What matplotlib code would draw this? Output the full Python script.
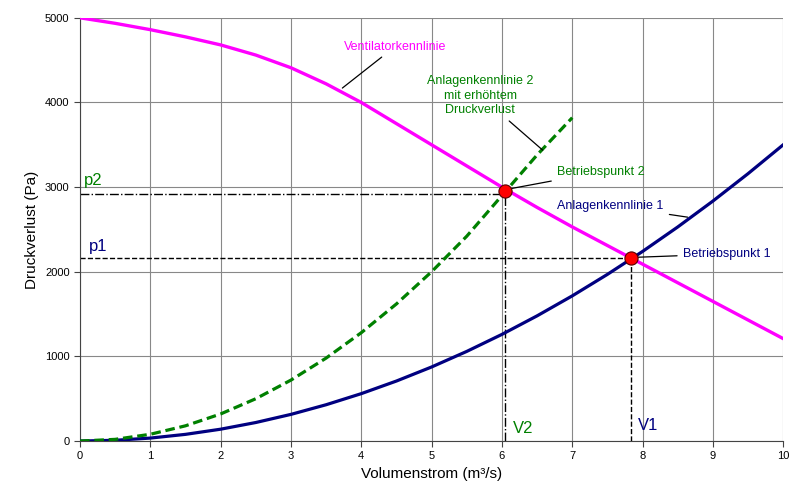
import numpy as np
import matplotlib.pyplot as plt

plt.rcParams['font.family'] = ['Liberation Sans', 'DejaVu Sans']

# Ventilatorkennlinie (fan curve)
v_fan = [0, 0.5, 1, 1.5, 2, 2.5, 3, 3.5, 4, 4.5, 5, 5.5, 6, 6.5, 7, 7.5, 8, 8.5, 9, 9.5, 10]
p_fan = [5000, 4935, 4860, 4775, 4680, 4560, 4410, 4220, 4000, 3750, 3500, 3250,
         3000, 2760, 2530, 2310, 2090, 1870, 1650, 1430, 1210]

# Anlagenkennlinie 1 (system curve)
v_sys1 = [0, 0.5, 1, 1.5, 2, 2.5, 3, 3.5, 4, 4.5, 5, 5.5, 6, 6.5, 7, 7.5, 8, 8.5, 9, 9.5, 10]
p_sys1 = [0, 9, 35, 79, 140, 219, 315, 429, 560, 709, 875, 1059, 1260, 1479, 1715,
          1969, 2240, 2529, 2835, 3159, 3500]

# Anlagenkennlinie 2 (higher pressure loss)
v_sys2 = [0, 0.5, 1, 1.5, 2, 2.5, 3, 3.5, 4, 4.5, 5, 5.5, 6, 6.5, 7]
p_sys2 = [0, 20, 80, 180, 320, 500, 720, 980, 1280, 1620, 2000, 2420, 2900, 3380, 3820]

# Betriebspunkte
bp_v = [6.05, 7.84]
bp_p = [2955, 2165]
p2_level = 2920
p1_level = 2160

fig = plt.figure(figsize=(8, 4.95), dpi=100)
ax = fig.add_axes([0.1, 0.109, 0.879, 0.855])

ax.plot(v_fan, p_fan, color='#ff00ff', lw=2.4, zorder=3)
ax.plot(v_sys1, p_sys1, color='#000080', lw=2.3, zorder=3)
ax.plot(v_sys2, p_sys2, color='#008000', lw=2.3, ls=(0, (3, 1.5)), zorder=3)

# helper lines
ax.plot([0, bp_v[0]], [p2_level, p2_level], color='black', lw=1, ls='-.', zorder=2)
ax.plot([bp_v[0], bp_v[0]], [0, bp_p[0]], color='black', lw=1, ls='-.', zorder=2)
ax.plot([0, bp_v[1]], [p1_level, p1_level], color='black', lw=1, ls='--', zorder=2)
ax.plot([bp_v[1], bp_v[1]], [0, bp_p[1]], color='black', lw=1, ls='--', zorder=2)

ax.scatter(bp_v, bp_p, s=90, color='#ff0000', edgecolors='#550000', linewidths=0.8, zorder=5)

ax.set_xlim(0, 10)
ax.set_ylim(0, 5000)
ax.set_xticks(range(0, 11))
ax.set_yticks(range(0, 5001, 1000))
ax.grid(True, color='#888888', lw=0.8)
for s in ['top', 'right']:
    ax.spines[s].set_visible(False)
for s in ['left', 'bottom']:
    ax.spines[s].set_color('#444444')
ax.tick_params(labelsize=8, length=4, color='#444444')
ax.set_xlabel('Volumenstrom (m³/s)', fontsize=11)
ax.set_ylabel('Druckverlust (Pa)', fontsize=11)

# labels
ax.text(0.05, 3030, 'p2', color='#008000', fontsize=12)
ax.text(0.12, 2240, 'p1', color='#000080', fontsize=12)
ax.text(6.15, 100, 'V2', color='#008000', fontsize=12)
ax.text(7.93, 130, 'V1', color='#000080', fontsize=12)

ann = dict(arrowstyle='-', color='black', lw=0.9)
ax.annotate('Ventilatorkennlinie', xy=(3.7, 4150), xytext=(4.48, 4660),
            color='#ff00ff', fontsize=9, ha='center', va='center', arrowprops=ann)
ax.annotate('Anlagenkennlinie 2\nmit erhöhtem\nDruckverlust', xy=(6.61, 3415), xytext=(5.69, 4080),
            color='#008000', fontsize=9, ha='center', va='center', arrowprops=ann, linespacing=1.3)
ax.annotate('Betriebspunkt 2', xy=(6.08, 2975), xytext=(6.78, 3180),
            color='#008000', fontsize=9, ha='left', va='center', arrowprops=ann)
ax.annotate('Anlagenkennlinie 1', xy=(8.68, 2640), xytext=(6.79, 2780),
            color='#000080', fontsize=9, ha='left', va='center', arrowprops=ann)
ax.annotate('Betriebspunkt 1', xy=(7.88, 2170), xytext=(8.57, 2210),
            color='#000080', fontsize=9, ha='left', va='center', arrowprops=ann)

fig.savefig('out.png', dpi=100)
